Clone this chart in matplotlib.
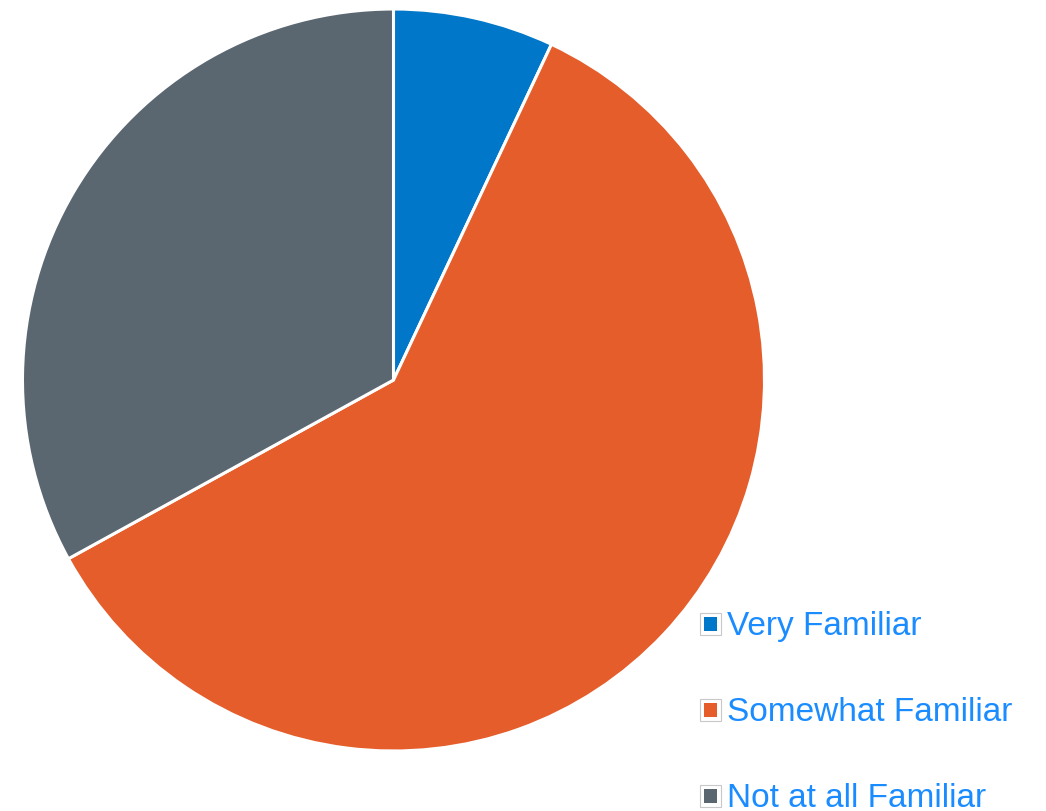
import matplotlib.pyplot as plt
from matplotlib.patches import Rectangle

labels = ["Very Familiar", "Somewhat Familiar", "Not at all Familiar"]
values = [7, 60, 33]
colors = ["#0077C8", "#E45D2B", "#5A6670"]

W, H = 1046, 811
fig = plt.figure(figsize=(W / 100, H / 100), dpi=100)
plt.rcParams['font.family'] = ['Liberation Sans', 'DejaVu Sans']

# pie axes, square, centre at about (394, 380) px, radius ~371 px
ax = fig.add_axes([22.5 / W, 60 / H, 742 / W, 742 / H])
ax.pie(values, colors=colors, startangle=90, counterclock=False, radius=1,
       wedgeprops=dict(edgecolor="white", linewidth=2.2))
ax.set_xlim(-1.0, 1.0)
ax.set_ylim(-1.0, 1.0)
ax.set_aspect("equal")
ax.axis("off")

# legend drawn by hand: little framed squares + blue text
for i, (lab, col) in enumerate(zip(labels, colors)):
    top = 613 + 86 * i
    fig.add_artist(Rectangle((700 / W, 1 - (top + 22) / H), 21 / W, 22 / H,
                             transform=fig.transFigure, facecolor="white",
                             edgecolor="#c8c8c8", linewidth=0.8))
    fig.add_artist(Rectangle((704 / W, 1 - (top + 18) / H), 13 / W, 14 / H,
                             transform=fig.transFigure, facecolor=col,
                             edgecolor="none"))
    fig.text(727 / W, 1 - (top + 22) / H, lab, color="#1A8CFF", fontsize=24,
             va="baseline", ha="left")

fig.savefig("out.png", dpi=100)
